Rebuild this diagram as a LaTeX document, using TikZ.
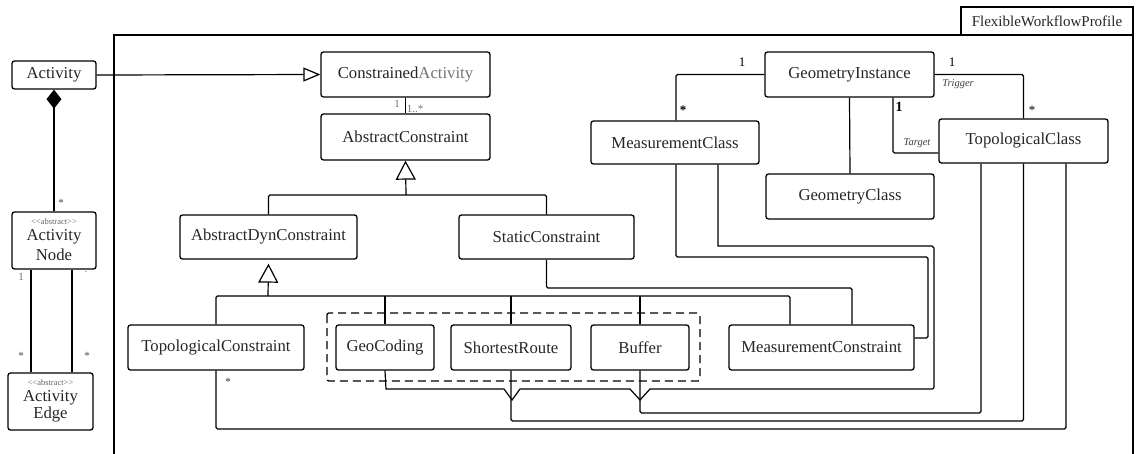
\documentclass[tikz,border=0pt]{standalone}
\usepackage{fontspec}
\setmainfont{Liberation Serif}
\usetikzlibrary{arrows.meta,calc}
\begin{document}
\begin{tikzpicture}[x=1pt,y=-1pt,
  cls/.style={draw, line width=1.3pt, rounded corners=2.5pt, inner sep=0pt, font=\fontsize{16.7}{19}\selectfont, text=black!85},
  conn/.style={line width=1.2pt, rounded corners=1.5pt},
  gen/.style={conn, -{Triangle[open, length=19pt, width=20pt]}},
  mult/.style={font=\fontsize{13}{14}\selectfont, inner sep=0pt},
  tiny/.style={font=\fontsize{11}{12}\selectfont, inner sep=0pt, text=black!55},
  role/.style={font=\itshape\fontsize{10.5}{12}\selectfont, inner sep=0pt, text=black!75},
  stereo/.style={font=\fontsize{8.5}{9}\selectfont, inner sep=0pt, text=black!60},
]
\useasboundingbox (0,0) rectangle (1136,453);

% package frame and tab
\draw[line width=1.3pt] (114,470) -- (114,35) -- (1133,35) -- (1133,470);
\node[draw, line width=1.3pt, minimum width=172pt, minimum height=28pt, inner sep=0pt,
      font=\fontsize{15}{17}\selectfont, text=black!85] (tab) at (1047,21) {FlexibleWorkflowProfile};

% left column
\node[cls, minimum width=84pt, minimum height=28pt] (act) at (54,75) {Activity};
\node[cls, minimum width=84pt, minimum height=57pt] (actnode) at (54,240.5) {};
\node[stereo] (an1) at ($(actnode.north)+(0,10)$) {<\kern0pt<abstract>\kern0pt>};
\node[font=\fontsize{16.7}{19}\selectfont, inner sep=0pt, text=black!85] (an2) at ($(actnode.north)+(0,25)$) {Activity};
\node[font=\fontsize{16.7}{19}\selectfont, inner sep=0pt, text=black!85] (an3) at ($(actnode.north)+(0,43)$) {Node};
\node[cls, minimum width=85pt, minimum height=57pt] (actedge) at (50.5,401.5) {};
\node[stereo] (ae1) at ($(actedge.north)+(0,10)$) {<\kern0pt<abstract>\kern0pt>};
\node[font=\fontsize{16.7}{19}\selectfont, inner sep=0pt, text=black!85] (ae2) at ($(actedge.north)+(0,25)$) {Activity};
\node[font=\fontsize{16.7}{19}\selectfont, inner sep=0pt, text=black!85] (ae3) at ($(actedge.north)+(0,42)$) {Edge};

% constraint hierarchy
\node[cls, minimum width=169pt, minimum height=45pt] (conact) at (405.5,74.5) {Constrained\textcolor{black!55}{Activity}};
\node[cls, minimum width=169pt, minimum height=46pt] (abscon) at (405.5,137) {AbstractConstraint};
\node[cls, minimum width=177pt, minimum height=44pt] (absdyn) at (268.5,237) {AbstractDynConstraint};
\node[cls, minimum width=175pt, minimum height=44pt] (static) at (546.5,237) {StaticConstraint};
\node[cls, minimum width=176pt, minimum height=45pt] (topocon) at (216,347.5) {TopologicalConstraint};
\node[cls, minimum width=98pt, minimum height=45pt] (geoc) at (385,347.5) {GeoCoding};
\node[cls, minimum width=120pt, minimum height=45pt] (short) at (511,347.5) {ShortestRoute};
\node[cls, minimum width=98pt, minimum height=45pt] (buffer) at (640,347.5) {Buffer};
\node[cls, minimum width=185pt, minimum height=45pt] (meascon) at (821.5,347.5) {MeasurementConstraint};
\draw[line width=1.3pt, dash pattern=on 8pt off 5pt, rounded corners=2pt] (327,313) rectangle (700,381);

% geometry classes
\node[cls, minimum width=168pt, minimum height=43pt] (meascls) at (675,142.5) {MeasurementClass};
\node[cls, minimum width=169pt, minimum height=45pt] (geoinst) at (849.5,74.5) {GeometryInstance};
\node[cls, minimum width=168pt, minimum height=45pt] (geocls) at (850,196.5) {GeometryClass};
\node[cls, minimum width=169pt, minimum height=44pt] (topocls) at (1023.5,141) {TopologicalClass};

% Activity relations
\draw[conn, -{Triangle[open, length=17pt, width=14pt]}] (act.east) -- (conact.west);
\draw[conn, line width=1.5pt, -{Diamond[length=19pt, width=15pt]}] (actnode.north) -- (act.south);
\node[tiny, text=black!70] (m1) at (61,203) {*};
\coordinate (e1) at ($(actnode.south)+(-23,0)$);
\coordinate (e2) at ($(actnode.south)+(18,0)$);
\draw[conn, line width=2.8pt] (e1) -- (e1 |- actedge.north);
\draw[conn] (e2) -- (e2 |- actedge.north);
\node[tiny] (m2) at (21,277) {1};
\node[tiny] (m3) at (86,272) {.};
\node[tiny, text=black!70] (m4) at (21,356) {*};
\node[tiny, text=black!70] (m5) at (87,356) {*};

% constrained activity
\draw[conn] (conact.south) -- (abscon.north);
\node[tiny] (m6) at (397,104) {1};
\node[tiny] (m7) at (415,109) {1..*};

% generalizations
\draw[conn] (absdyn.north) |- (406,195) -| (static.north);
\draw[gen] (406,195) -- (abscon.south);
\coordinate (mcgen) at ($(meascon.north)+(-31.5,0)$);
\coordinate (mcsta) at ($(meascon.north)+(30.5,0)$);
\draw[conn] (topocon.north) |- (268,296) -- (mcgen |- 0,296) -- (mcgen);
\draw[gen] (268,296) -- ($(absdyn.south)+(0,4)$);
\draw[conn] (geoc.north) -- (geoc.north |- 0,296);
\draw[conn] (short.north) -- (short.north |- 0,296);
\draw[conn] (buffer.north) -- (buffer.north |- 0,296);
\draw[conn] (static.south) |- (852,288) -- (mcsta);

% to measurement classes
\coordinate (mcl2) at ($(meascls.south)+(43,0)$);
\coordinate (mcl1) at ($(meascls.south)+(1,0)$);
\draw[conn, rounded corners=0pt] (geoc.south) -- (386,389) -- (504,389) -- (512,400) -- (520,389)
   -- (630,389) -- (640,400) -- (650,389) -- (932,389) to[out=0,in=-90] (934,387) -- (934,248) to[out=-90,in=0] (932,246) -- (mcl2 |- 0,246) -- (mcl2);
\draw[conn] (mcl1) |- (928,257) |- ($(meascon.east)+(0,-9.5)$);

% to topological class
\draw[conn] (short.south) |- (1023.5,421) -- (topocls.south);
\draw[conn] (buffer.south) |- (981,413) -- ($(topocls.south)+(-42.5,0)$);
\draw[conn] (topocon.south) |- (1066,429) -- ($(topocls.south)+(42.5,0)$);
\node[tiny, text=black!80] (m8) at (228,382) {*};

% geometry instance relations
\draw[conn] (geoinst.west) -| (mcl1 |- meascls.north);
\node[mult] (m9) at (742,62) {1};
\node[mult, font=\bfseries\fontsize{13}{14}\selectfont] (m10) at (683,110) {*};
\draw[conn] (geoinst.south) -- (geocls.north);
\draw[conn] (geoinst.east) -| (topocls.north);
\node[mult] (m11) at (952,62) {1};
\node[role] (r1) at (958,84) {Trigger};
\node[mult] (m12) at (1032,110) {*};
\coordinate (tg) at ($(geoinst.south)+(43.5,0)$);
\draw[conn] (tg) |- ($(topocls.west)+(0,12)$);
\node[mult, font=\bfseries\fontsize{14}{15}\selectfont] (m13) at (899,107) {1};
\node[role] (r2) at (917,143) {Target};
\end{tikzpicture}
\end{document}
